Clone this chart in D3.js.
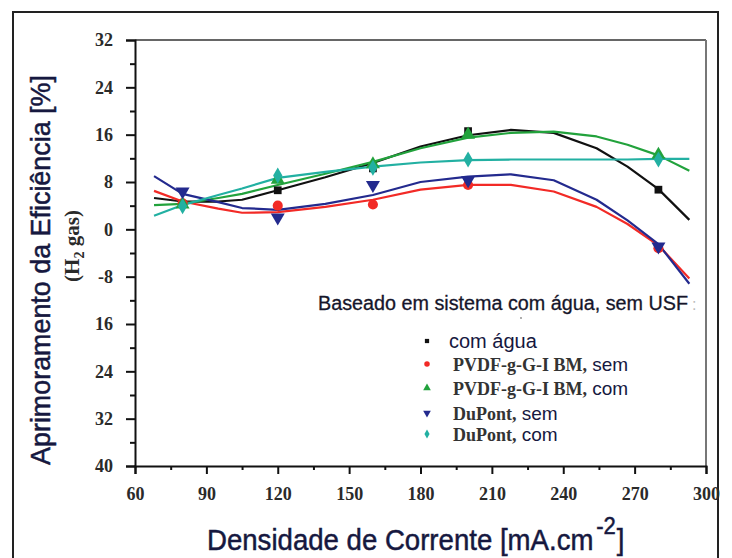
<!DOCTYPE html>
<html>
<head>
<meta charset="utf-8">
<script src="https://cdn.jsdelivr.net/npm/d3@7"></script>
<style>
  html, body { margin: 0; padding: 0; background: #fff; }
  svg { display: block; }
</style>
</head>
<body>
<svg id="chart" width="732" height="558"></svg>
<script>
// Measured points (current density, mA/cm²) and efficiency improvement (%)
const currentDensity = [80, 120, 160, 200, 280];
const comAgua   = [4.3, 6.6, 10.3, 16.6, 6.7];
const pvdfSem   = [4.4, 4.0, 4.2, 7.5, -3.2];
const pvdfCom   = [4.2, 8.4, 11.0, 16.0, 12.6];
const dupontSem = [6.4, 2.0, 7.5, 8.3, -2.9];
const dupontCom = [3.9, 9.1, 10.4, 11.8, 11.8];

// Fitted trend curves
const fitX         = [68, 80, 95, 105, 120, 140, 160, 180, 200, 218, 236, 254, 267, 280, 293];
const fitComAgua   = [5.3, 4.7, 4.7, 5.0, 6.6, 8.8, 11.2, 14.0, 15.9, 16.8, 16.3, 13.7, 10.6, 6.8, 1.6];
const fitPvdfSem   = [6.5, 4.7, 3.5, 2.8, 2.9, 3.8, 5.0, 6.7, 7.5, 7.5, 6.4, 3.8, 0.9, -2.7, -8.3];
const fitPvdfCom   = [4.1, 4.3, 5.3, 6.0, 7.5, 9.4, 11.4, 13.7, 15.5, 16.3, 16.5, 15.7, 14.3, 12.5, 9.9];
const fitDupontSem = [9.0, 6.0, 4.6, 3.6, 3.3, 4.3, 5.8, 8.0, 8.9, 9.3, 8.3, 5.0, 1.5, -2.5, -9.2];
const fitDupontCom = [2.3, 4.1, 5.8, 6.9, 8.7, 9.7, 10.6, 11.3, 11.7, 11.8, 11.8, 11.8, 11.8, 11.9, 11.9];

// Axis ticks
const xTickValues = [60, 90, 120, 150, 180, 210, 240, 270, 300];
const xTickLabels = ["60", "90", "120", "150", "180", "210", "240", "270", "300"];
const yTickValues = [32, 24, 16, 8, 0, -8, -16, -24, -32, -40];
const yTickLabels = ["32", "24", "16", "8", "0", "-8", "16", "24", "32", "40"];

const seriesNames = ["com água", "PVDF-g-G-I BM, sem", "PVDF-g-G-I BM, com", "DuPont, sem", "DuPont, com"];

const svg = d3.select("#chart");
const plotLeft = 135, plotRight = 706, plotTop = 40, plotBottom = 466;

const x = d3.scaleLinear().domain([60, 300]).range([plotLeft, plotRight]);
const y = d3.scaleLinear().domain([-40, 32]).range([plotBottom, plotTop]);

const serifFont = "'Liberation Serif', 'Times New Roman', serif";
const sansFont = "'Liberation Sans', Arial, sans-serif";
const titleColor = "#16183f";

// outer figure border
svg.append("rect")
  .attr("x", 13).attr("y", 12).attr("width", 705).attr("height", 560)
  .attr("fill", "none").attr("stroke", "#222").attr("stroke-width", 2);

// plot frame (top and right)
svg.append("line").attr("x1", plotLeft).attr("x2", plotRight).attr("y1", plotTop).attr("y2", plotTop)
  .attr("stroke", "#666").attr("stroke-width", 2);
svg.append("line").attr("x1", plotRight).attr("x2", plotRight).attr("y1", plotTop).attr("y2", plotBottom)
  .attr("stroke", "#777").attr("stroke-width", 2);

// x axis: major + minor ticks
const xMinor = d3.range(75, 300, 30);
svg.append("g").attr("transform", `translate(0,${plotBottom})`)
  .call(d3.axisBottom(x).tickValues(xMinor).tickSize(4).tickSizeOuter(0).tickFormat(""))
  .call(g => g.select(".domain").remove())
  .call(g => g.selectAll("line").attr("stroke", "#111").attr("stroke-width", 2));
const xAxis = svg.append("g").attr("transform", `translate(0,${plotBottom})`)
  .call(d3.axisBottom(x).tickValues(xTickValues).tickSize(8).tickSizeOuter(8)
    .tickPadding(13).tickFormat((d, i) => xTickLabels[i]));
xAxis.attr("font-size", null).attr("font-family", null);
xAxis.select(".domain").attr("stroke", "#111").attr("stroke-width", 2);
xAxis.selectAll("line").attr("stroke", "#111").attr("stroke-width", 2);
xAxis.selectAll("text")
  .attr("font-family", serifFont).attr("font-weight", "bold")
  .attr("font-size", 18).attr("fill", "#2a2a2a");

// y axis: major + minor ticks
const yMinor = d3.range(-36, 32, 8);
svg.append("g").attr("transform", `translate(${plotLeft},0)`)
  .call(d3.axisLeft(y).tickValues(yMinor).tickSize(5).tickSizeOuter(0).tickFormat(""))
  .call(g => g.select(".domain").remove())
  .call(g => g.selectAll("line").attr("stroke", "#111").attr("stroke-width", 2));
const yAxis = svg.append("g").attr("transform", `translate(${plotLeft},0)`)
  .call(d3.axisLeft(y).tickValues(yTickValues).tickSize(9).tickSizeOuter(9)
    .tickPadding(13).tickFormat((d, i) => yTickLabels[i]));
yAxis.attr("font-size", null).attr("font-family", null);
yAxis.select(".domain").attr("stroke", "#111").attr("stroke-width", 2);
yAxis.selectAll("line").attr("stroke", "#111").attr("stroke-width", 2);
yAxis.selectAll("text")
  .attr("font-family", serifFont).attr("font-weight", "bold")
  .attr("font-size", 18).attr("fill", "#2a2a2a");

// series definitions
const series = [
  { name: seriesNames[0], color: "#111111", fit: fitComAgua,   pts: comAgua,   symbol: d3.symbolSquare,   rot: 0,   size: 60 },
  { name: seriesNames[1], color: "#f22a26", fit: fitPvdfSem,   pts: pvdfSem,   symbol: d3.symbolCircle,   rot: 0,   size: 80 },
  { name: seriesNames[2], color: "#22a23c", fit: fitPvdfCom,   pts: pvdfCom,   symbol: d3.symbolTriangle, rot: 0,   size: 85 },
  { name: seriesNames[3], color: "#232a8e", fit: fitDupontSem, pts: dupontSem, symbol: d3.symbolTriangle, rot: 180, size: 85 },
  { name: seriesNames[4], color: "#22b0a2", fit: fitDupontCom, pts: dupontCom, symbol: d3.symbolDiamond,  rot: 0,   size: 75 }
];

const line = d3.line().x(d => x(d[0])).y(d => y(d[1])).curve(d3.curveLinear);

// fitted curves
series.forEach(s => {
  svg.append("path")
    .datum(fitX.map((v, i) => [v, s.fit[i]]))
    .attr("d", line)
    .attr("fill", "none")
    .attr("stroke", s.color)
    .attr("stroke-width", 2.2)
    .attr("stroke-linejoin", "round");
});

// measured markers
series.forEach(s => {
  svg.append("g").selectAll("path")
    .data(currentDensity.map((v, i) => [v, s.pts[i]]))
    .join("path")
    .attr("d", d3.symbol().type(s.symbol).size(s.size))
    .attr("transform", d => `translate(${x(d[0])},${y(d[1])}) rotate(${s.rot})`)
    .attr("fill", s.color);
});

// axis titles
svg.append("text")
  .attr("transform", "translate(50,270) rotate(-90) scale(0.96,1)")
  .attr("text-anchor", "middle")
  .attr("font-family", sansFont).attr("font-size", 28)
  .attr("fill", titleColor).attr("stroke", titleColor).attr("stroke-width", 0.5)
  .text("Aprimoramento da Eficiência [%]");

const h2 = svg.append("text")
  .attr("transform", "translate(79,246) rotate(-90)")
  .attr("text-anchor", "middle")
  .attr("font-family", serifFont).attr("font-weight", "bold")
  .attr("font-size", 21).attr("fill", "#2a2a2a");
h2.append("tspan").text("(H");
h2.append("tspan").attr("font-size", 14).attr("dy", 5).text("2");
h2.append("tspan").attr("dy", -5).text(" gas)");

const xt = svg.append("text")
  .attr("transform", "translate(207,550) scale(0.92,1)")
  .attr("font-family", sansFont).attr("font-size", 30)
  .attr("fill", titleColor).attr("stroke", titleColor).attr("stroke-width", 0.5);
xt.append("tspan").text("Densidade de Corrente [mA.cm");
xt.append("tspan").attr("font-size", 24).attr("dx", 3).attr("dy", -16).text("-2");
xt.append("tspan").attr("dx", 1).attr("dy", 16).text("]");

// legend
svg.append("text")
  .attr("x", 318).attr("y", 310)
  .attr("font-family", sansFont).attr("font-size", 20)
  .attr("textLength", 370).attr("lengthAdjust", "spacingAndGlyphs")
  .attr("fill", "#15152a").attr("stroke", "#15152a").attr("stroke-width", 0.3)
  .text("Baseado em sistema com água, sem USF");
svg.append("text")
  .attr("x", 692).attr("y", 310)
  .attr("font-family", sansFont).attr("font-size", 16)
  .attr("fill", "#bbb").text(":");
svg.append("circle").attr("cx", 521).attr("cy", 318).attr("r", 0.9).attr("fill", "#888");

const legendRows = [341, 364, 388, 413, 434];
series.forEach((s, i) => {
  const ly = legendRows[i];
  svg.append("path")
    .attr("d", d3.symbol().type(s.symbol).size(s.size * 0.3))
    .attr("transform", `translate(427,${ly}) rotate(${s.rot})`)
    .attr("fill", s.color);
  const t = svg.append("text").attr("x", i === 0 ? 449 : 453).attr("y", ly + 7);
  if (i === 0) {
    t.attr("font-family", sansFont).attr("font-size", 20).attr("fill", titleColor).text(s.name);
  } else {
    const parts = s.name.split(", ");
    t.append("tspan")
      .attr("font-family", serifFont).attr("font-weight", "bold")
      .attr("font-size", 18).attr("fill", "#333")
      .text(parts[0] + ",");
    t.append("tspan")
      .attr("font-family", sansFont).attr("font-size", 19).attr("fill", titleColor)
      .text(" " + parts[1]);
  }
});
</script>
</body>
</html>
